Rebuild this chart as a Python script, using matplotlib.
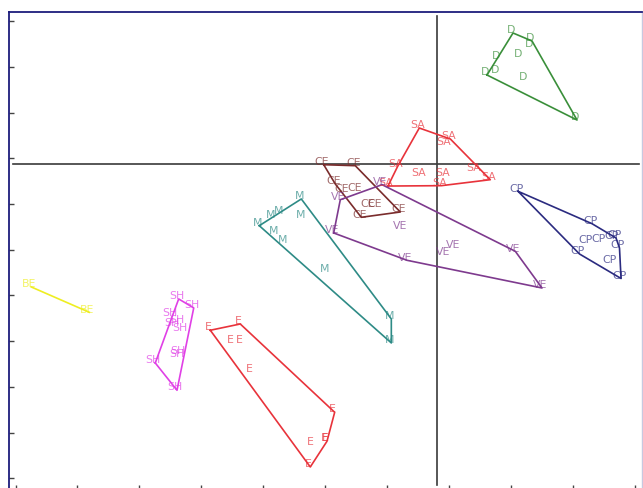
import numpy as np
import matplotlib
matplotlib.use("Agg")
import matplotlib.pyplot as plt

# factor scores (axis 1, axis 2)
d_x = [1.236, 1.543, 1.527, 0.994, 1.349, 0.816, 0.977, 1.430, 2.270]
d_y = [2.873, 2.698, 2.567, 2.304, 2.348, 1.954, 1.998, 1.845, 0.969]

sa_x = [-0.278, 0.223, 0.153, -0.627, -0.255, 0.132, 0.078, 0.627, 0.869, -0.784]
sa_y = [0.794, 0.554, 0.429, -0.044, -0.249, -0.249, -0.468, -0.153, -0.337, -0.476]

ce_x = [-1.822, -1.312, -1.635, -1.499, -1.284, -1.074, -0.961, -1.215, -0.585]
ce_y = [-0.009, -0.031, -0.431, -0.591, -0.578, -0.934, -0.934, -1.160, -1.044]

ve_x = [-0.880, -1.554, -1.661, -0.557, -0.477, 0.142, 0.304, 1.273, 1.704]
ve_y = [-0.446, -0.775, -1.503, -1.416, -2.101, -1.978, -1.832, -1.904, -2.707]

m_x = [-2.184, -2.512, -2.641, -2.162, -2.863, -2.604, -2.452, -1.769, -0.730, -0.730]
m_y = [-0.759, -1.077, -1.164, -1.160, -1.344, -1.519, -1.707, -2.363, -3.385, -3.910]

cp_x = [1.317, 2.512, 2.431, 2.641, 2.851, 2.900, 2.956, 2.310, 2.819, 2.981]
cp_y = [-0.591, -1.300, -1.722, -1.689, -1.624, -1.613, -1.832, -1.963, -2.160, -2.499]

sh_x = [-4.165, -3.922, -4.268, -4.165, -4.246, -4.111, -4.543, -4.139, -4.165, -4.192]
sh_y = [-2.947, -3.144, -3.326, -3.473, -3.545, -3.654, -4.348, -4.151, -4.217, -4.945]

e_x = [-3.654, -3.170, -3.304, -3.153, -2.992, -1.645, -1.769, -1.785, -2.011, -2.039]
e_y = [-3.632, -3.495, -3.910, -3.910, -4.551, -5.427, -6.061, -6.043, -6.136, -6.624]

be_x = [-6.546, -5.609]
be_y = [-2.685, -3.239]

groups = [
    ("D", d_x, d_y, "#3a8f3a"),
    ("SA", sa_x, sa_y, "#e8333b"),
    ("CE", ce_x, ce_y, "#7a2c2c"),
    ("VE", ve_x, ve_y, "#7e3a8e"),
    ("M", m_x, m_y, "#2e8b86"),
    ("CP", cp_x, cp_y, "#2b2b80"),
    ("SH", sh_x, sh_y, "#e040e6"),
    ("E", e_x, e_y, "#e8333b"),
    ("BE", be_x, be_y, "#eeee22"),
]


def hull(pts):
    pts = sorted(set(pts))
    if len(pts) < 3:
        return pts

    def cross(o, a, b):
        return (a[0] - o[0]) * (b[1] - o[1]) - (a[1] - o[1]) * (b[0] - o[0])

    lower, upper = [], []
    for p in pts:
        while len(lower) >= 2 and cross(lower[-2], lower[-1], p) <= 0:
            lower.pop()
        lower.append(p)
    for p in reversed(pts):
        while len(upper) >= 2 and cross(upper[-2], upper[-1], p) <= 0:
            upper.pop()
        upper.append(p)
    h = lower[:-1] + upper[:-1]
    return h + [h[0]]


fig = plt.figure(figsize=(6.43, 4.88), dpi=100)
ax = fig.add_axes([0.014, -0.004, 0.984, 0.98])

for name, xs, ys, col in groups:
    h = hull(list(zip(xs, ys)))
    ax.plot([p[0] for p in h], [p[1] for p in h], color=col, lw=1.2, zorder=2)
    for x, y in zip(xs, ys):
        ax.annotate(name, (x, y), xytext=(-1.4, 2.0), textcoords="offset points",
                    ha="center", va="center", fontsize=7.8, color=col, alpha=0.7,
                    zorder=3)

ax.axhline(0, xmin=0.006, xmax=0.996, color="#3a3a3a", lw=1.2, zorder=1)
ax.axvline(0, ymin=0.01, ymax=0.991, color="#3a3a3a", lw=1.2, zorder=1)

ax.set_xlim(-6.906, 3.315)
ax.set_ylim(-7.127, 3.339)
ax.set_xticks(np.arange(-6.8, 3.3, 1.0))
ax.set_yticks(np.arange(-6.87, 3.2, 1.0))
ax.tick_params(direction="in", length=3.5, width=1, color="#444444",
               labelbottom=False, labelleft=False)

for s in ("left", "top", "bottom"):
    ax.spines[s].set_color("#1c1c7c")
    ax.spines[s].set_linewidth(1.3)
ax.spines["right"].set_color("#c8c8e0")
ax.spines["right"].set_linewidth(1.0)

fig.savefig("out.png", dpi=100)
